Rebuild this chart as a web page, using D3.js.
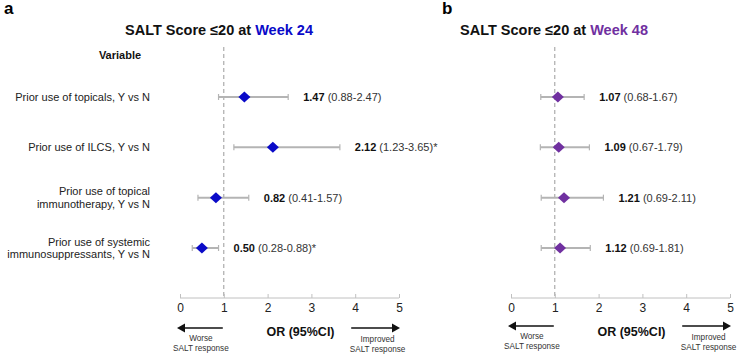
<!DOCTYPE html>
<html><head><meta charset="utf-8">
<script src="https://cdn.jsdelivr.net/npm/d3@7"></script>
<style>
html,body{margin:0;padding:0;background:#fff;}
svg{display:block;font-family:Arial,"Liberation Sans",sans-serif;}
</style></head>
<body>
<svg id="chart" width="755" height="357"></svg>
<script>
const variables = [
  ["Prior use of topicals, Y vs N"],
  ["Prior use of ILCS, Y vs N"],
  ["Prior use of topical", "immunotherapy, Y vs N"],
  ["Prior use of systemic", "immunosuppressants, Y vs N"]
];
const or24 = [1.47, 2.12, 0.82, 0.50];
const lo24 = [0.88, 1.23, 0.41, 0.28];
const hi24 = [2.47, 3.65, 1.57, 0.88];
const sig24 = [false, true, false, true];
const or48 = [1.07, 1.09, 1.21, 1.12];
const lo48 = [0.68, 0.67, 0.69, 0.69];
const hi48 = [1.67, 1.79, 2.11, 1.81];
const sig48 = [false, false, false, false];
const ticks = [0, 1, 2, 3, 4, 5];

const svg = d3.select("#chart");
const y = d3.scalePoint().domain(d3.range(variables.length)).range([97, 248]);
const axisY = 298;

function panel(opts) {
  const g = svg.append("g");
  const x = d3.scaleLinear().domain([0, 5]).range(opts.range);
  // panel letter
  g.append("text").attr("x", opts.letterX).attr("y", 14).attr("font-size", 17).attr("font-weight", "bold").text(opts.letter);
  // title
  const t = g.append("text").attr("x", opts.titleX).attr("y", 35).attr("font-size", 14.5).attr("font-weight", "bold").attr("fill", "#111");
  t.append("tspan").text("SALT Score ≤20 at ");
  t.append("tspan").attr("fill", opts.color).text(opts.week);
  // reference line
  g.append("line").attr("x1", x(1)).attr("x2", x(1)).attr("y1", 47).attr("y2", axisY)
    .attr("stroke", "#9a9a9a").attr("stroke-width", 1).attr("stroke-dasharray", "4,3");
  // axis
  const ax = g.append("g").attr("transform", `translate(0,${axisY})`)
    .call(d3.axisBottom(x).tickValues(ticks).tickSize(-4).tickPadding(8).tickFormat(d3.format("d")));
  ax.select(".domain").attr("stroke", "#c0c0c0").attr("d", `M${x(0)},0H${x(5)}`);
  ax.selectAll(".tick line").attr("stroke", "#c0c0c0");
  ax.selectAll(".tick text").attr("font-size", 12).attr("fill", "#222").attr("font-family", "Arial,'Liberation Sans',sans-serif").attr("dy", "0.5em");
  // CI lines
  const rows = g.selectAll("g.row").data(opts.or.map((v, i) => i)).join("g").attr("class", "row");
  rows.append("line").attr("x1", i => x(opts.lo[i])).attr("x2", i => x(opts.hi[i]))
    .attr("y1", i => y(i)).attr("y2", i => y(i)).attr("stroke", "#b4b4b4").attr("stroke-width", 2);
  rows.append("line").attr("x1", i => x(opts.lo[i])).attr("x2", i => x(opts.lo[i]))
    .attr("y1", i => y(i) - 3).attr("y2", i => y(i) + 3).attr("stroke", "#b4b4b4").attr("stroke-width", 1.2);
  rows.append("line").attr("x1", i => x(opts.hi[i])).attr("x2", i => x(opts.hi[i]))
    .attr("y1", i => y(i) - 3).attr("y2", i => y(i) + 3).attr("stroke", "#b4b4b4").attr("stroke-width", 1.2);
  rows.append("path").attr("d", i => {
    const cx = x(opts.or[i]), cy = y(i);
    return `M${cx - 6},${cy}L${cx},${cy - 5.5}L${cx + 6},${cy}L${cx},${cy + 5.5}Z`;
  }).attr("fill", opts.color);
  const lab = rows.append("text").attr("x", i => x(opts.hi[i]) + 15).attr("y", i => y(i) + 4)
    .attr("font-size", 11).attr("fill", "#111");
  lab.append("tspan").attr("font-weight", "bold").text(i => opts.or[i].toFixed(2));
  lab.append("tspan").attr("fill", "#333").text(i => ` (${opts.lo[i].toFixed(2)}-${opts.hi[i].toFixed(2)})${opts.sig[i] ? "*" : ""}`);
  // OR label
  g.append("text").attr("x", (x(0) + x(5)) / 2 + 11).attr("y", 336).attr("text-anchor", "middle")
    .attr("font-size", 12.5).attr("font-weight", "bold").attr("fill", "#111").text("OR (95%CI)");
  // arrows
  const ay = opts.arrowY;
  const lx1 = x(0) - 3, lx2 = x(1) - 1;
  g.append("line").attr("x1", lx1 + 7).attr("x2", lx2).attr("y1", ay).attr("y2", ay).attr("stroke", "#111").attr("stroke-width", 1.5);
  g.append("path").attr("d", `M${lx1},${ay}L${lx1 + 8},${ay - 4.5}L${lx1 + 8},${ay + 4.5}Z`).attr("fill", "#111");
  const rx1 = x(4) - 4, rx2 = x(5) + 1;
  g.append("line").attr("x1", rx1).attr("x2", rx2 - 7).attr("y1", ay).attr("y2", ay).attr("stroke", "#111").attr("stroke-width", 1.5);
  g.append("path").attr("d", `M${rx2},${ay}L${rx2 - 8},${ay - 4.5}L${rx2 - 8},${ay + 4.5}Z`).attr("fill", "#111");
  const wx = (lx1 + lx2) / 2 + 1;
  const w = g.append("text").attr("text-anchor", "middle").attr("font-size", 8.2).attr("fill", "#333");
  w.append("tspan").attr("x", wx).attr("y", ay + 13).text("Worse");
  w.append("tspan").attr("x", wx).attr("y", ay + 23).text("SALT response");
  const ix = (rx1 + rx2) / 2 + 2;
  const im = g.append("text").attr("text-anchor", "middle").attr("font-size", 8.2).attr("fill", "#333");
  im.append("tspan").attr("x", ix).attr("y", ay + 14).text("Improved");
  im.append("tspan").attr("x", ix).attr("y", ay + 24).text("SALT response");
  return x;
}

panel({ range: [180, 399], letter: "a", letterX: 4, titleX: 125, week: "Week 24", color: "#0a0ac8",
  or: or24, lo: lo24, hi: hi24, sig: sig24, arrowY: 328 });
panel({ range: [511, 730], letter: "b", letterX: 442, titleX: 460, week: "Week 48", color: "#7030a0",
  or: or48, lo: lo48, hi: hi48, sig: sig48, arrowY: 326 });

// Variable header and labels
svg.append("text").attr("x", 120).attr("y", 59).attr("text-anchor", "middle").attr("font-size", 11)
  .attr("font-weight", "bold").attr("fill", "#111").text("Variable");
const vl = svg.selectAll("text.var").data(variables).join("text").attr("class", "var")
  .attr("text-anchor", "end").attr("font-size", 11).attr("fill", "#222");
vl.each(function (lines, i) {
  const n = lines.length;
  d3.select(this).selectAll("tspan").data(lines).join("tspan")
    .attr("x", 150).attr("y", (d, j) => y(i) + 4 + (j - (n - 1) / 2) * 12.5).text(d => d);
});
</script>
</body></html>
